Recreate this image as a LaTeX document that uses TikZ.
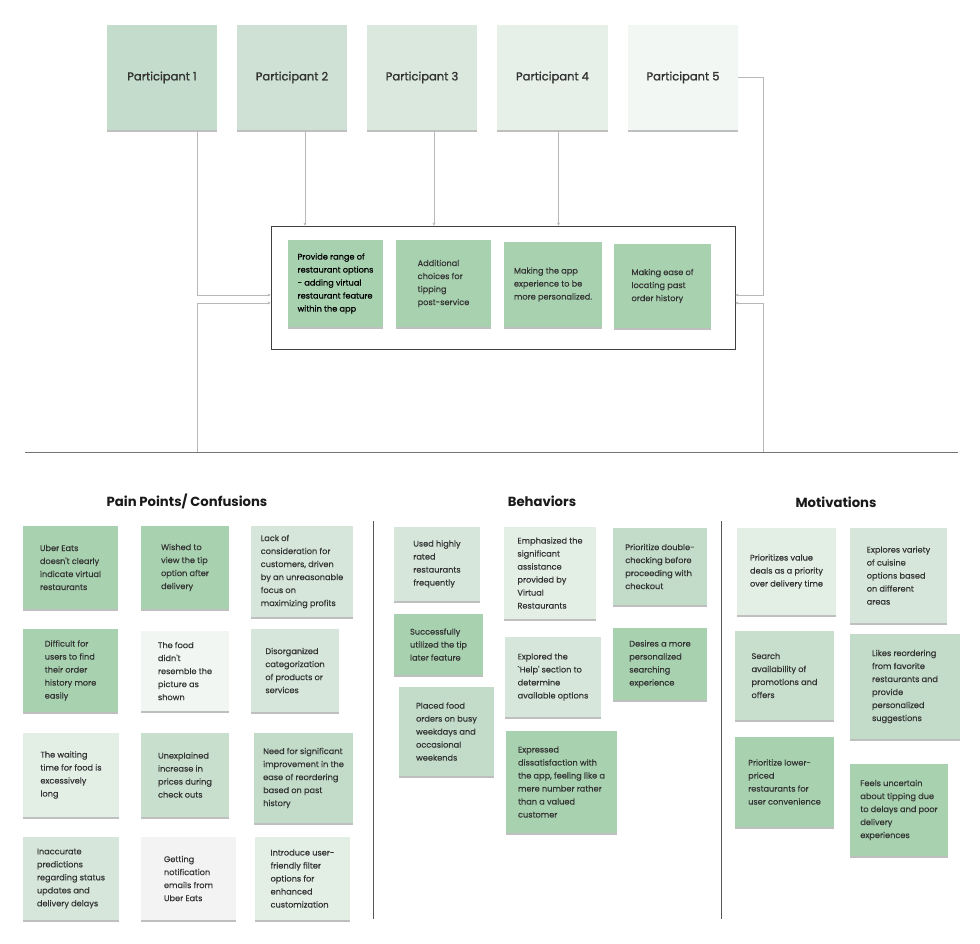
\documentclass[tikz,border=0pt]{standalone}
\usepackage{fontspec}
\setmainfont{Poppins}
\newfontfamily\pmed[FakeBold=1.3]{Poppins}
\newfontfamily\pcard[FakeBold=0.6]{Poppins}
\newfontfamily\ptext[FakeBold=0.25]{Poppins}
\usetikzlibrary{shadows,arrows.meta}
\definecolor{ga}{HTML}{A8D1B0}
\definecolor{gb}{HTML}{C3DCC9}
\definecolor{gc}{HTML}{C9DFCE}
\definecolor{gd}{HTML}{D6E6DA}
\definecolor{ge}{HTML}{E3EEE5}
\definecolor{gf}{HTML}{F1F6F2}
\definecolor{gg}{HTML}{F2F3F2}
\definecolor{pa}{HTML}{C4DCCB}
\definecolor{pb}{HTML}{CEE1D4}
\definecolor{pc}{HTML}{DAE8DE}
\definecolor{pd}{HTML}{E6F0E9}
\definecolor{pe}{HTML}{F2F7F3}
\definecolor{txt}{HTML}{333333}
\definecolor{conn}{HTML}{B8B8B8}
\tikzset{
  card/.style={draw=none, inner sep=0pt, align=left, text=txt,
    font=\ptext\fontsize{8.2}{13}\selectfont,
    drop shadow={shadow xshift=0pt, shadow yshift=-1.5pt, opacity=0.25, fill=black}},
  strongcard/.style={card, text=black, font=\pcard\fontsize{8.2}{13}\selectfont},
  partbox/.style={card, font=\pmed\fontsize{11.5}{14}\selectfont, text=black!80},
  header/.style={font=\bfseries\fontsize{13.2}{16}\selectfont, text=black!90},
  link/.style={draw=conn, line width=0.8pt, -{Stealth[length=3pt,width=3pt]}},
  sepline/.style={draw=black!65, line width=1pt}
}
\newcommand\card[7][card]{%
  \pgfmathsetmacro\cw{#5-#3}\pgfmathsetmacro\ch{#6-#4}%
  \pgfmathsetmacro\cx{(#3+#5)/2}\pgfmathsetmacro\cy{(#4+#6)/2}%
  \node[#1, fill=#7, minimum width=\cw pt, minimum height=\ch pt] (#2) at (\cx,\cy)}
\begin{document}
\begin{tikzpicture}[x=1pt,y=-1pt]
\fill[white] (0,0) rectangle (980,943);
\useasboundingbox (0,0) rectangle (980,943);

% participants
\card[partbox]{p1}{107}{25}{217}{130}{pa} {Participant 1};
\card[partbox]{p2}{237}{25}{347}{130}{pb} {Participant 2};
\card[partbox]{p3}{367}{25}{477}{130}{pc} {Participant 3};
\card[partbox]{p4}{497}{25}{608}{130}{pd} {Participant 4};
\card[partbox]{p5}{628}{25}{738}{130}{pe} {Participant 5};

% central box
\node[draw=black!75, line width=0.8pt, minimum width=464pt, minimum height=123pt, inner sep=0pt] (box) at (503,287.5) {};
\card[strongcard]{c1}{288}{240}{383}{327}{ga} {Provide range of\\restaurant options\\- adding virtual\\restaurant feature\\within the app};
\card{c2}{396}{240}{491}{327}{ga} {Additional\\choices for\\tipping\\post-service};
\card{c3}{504}{242}{602}{327}{ga} {Making the app\\experience to be\\more personalized.};
\card{c4}{614}{244}{711}{328}{ga} {Making ease of\\locating past\\order history};

% separator and connection points
\coordinate (sepL) at (25,452);
\coordinate (sepR) at (958,452);
\coordinate (l) at (197,452);
\coordinate (r) at (763,452);
\draw[sepline, draw=black!55] (sepL) -- (sepR);

% connectors
\draw[link] ([xshift=-20pt]p1.south east) |- ([yshift=-7.5pt]box.west);
\draw[link] ([xshift=13pt]p2.south) -- ([xshift=13pt]p2.south |- box.north);
\draw[link] ([xshift=12pt]p3.south) -- ([xshift=12pt]p3.south |- box.north);
\draw[link] ([xshift=6pt]p4.south) -- ([xshift=6pt]p4.south |- box.north);
\draw[link] (p5.east) -- (p5.east -| r) |- ([yshift=-7.5pt]box.east);
\draw[link] (l) |- ([yshift=-15.5pt]box.west);
\draw[link] (r) |- ([yshift=-15.5pt]box.east);

% headers
\node[header] (h1) at (187,501) {Pain Points/ Confusions};
\node[header] (h2) at (542,501) {Behaviors};
\node[header] (h3) at (836,502) {Motivations};

% vertical separators
\coordinate (v1t) at (373,521); \coordinate (v1b) at (373,919);
\coordinate (v2t) at (721,521); \coordinate (v2b) at (721,919);
\draw[sepline] (v1t) -- (v1b);
\draw[sepline] (v2t) -- (v2b);

% pain points
\card{a1}{23}{526}{118}{609}{ga} {Uber Eats\\doesn't clearly\\indicate virtual\\restaurants};
\card{a2}{141}{526}{229}{609}{ga} {Wished to\\view the tip\\option after\\delivery};
\card{a3}{251}{526}{353}{617}{gd} {Lack of\\consideration for\\customers, driven\\by an unreasonable\\focus on\\maximizing profits};
\card{b1}{23}{629}{118}{712}{ga} {Difficult for\\users to find\\their order\\history more\\easily};
\card{b2}{141}{631}{229}{711}{gf} {The food\\didn't\\resemble the\\picture as\\shown};
\card{b3}{251}{629}{339}{712}{gd} {Disorganized\\categorization\\of products or\\services};
\card{c1x}{23}{733}{119}{817}{ge} {The waiting\\time for food is\\excessively\\long};
\card{c2x}{141}{733}{229}{817}{gc} {Unexplained\\increase in\\prices during\\check outs};
\card{c3x}{254}{733}{353}{823}{gb} {Need for significant\\improvement in the\\ease of reordering\\based on past\\history};
\card{d1}{23}{837}{119}{920}{gd} {Inaccurate\\predictions\\regarding status\\updates and\\delivery delays};
\card{d2}{141}{837}{236}{920}{gg} {Getting\\notification\\emails from\\Uber Eats};
\card{d3}{255}{837}{350}{920}{ge} {Introduce user-\\friendly filter\\options for\\enhanced\\customization};

% behaviors
\card{e1}{394}{527}{480}{601}{gd} {Used highly\\rated\\restaurants\\frequently};
\card{e2}{504}{527}{596}{619}{ge} {Emphasized the\\significant\\assistance\\provided by\\Virtual\\Restaurants};
\card{e3}{613}{528}{707}{605}{gb} {Prioritize double-\\checking before\\proceeding with\\checkout};
\card{f1}{394}{614}{483}{675}{ga} {Successfully\\utilized the tip\\later feature};
\card{f2}{505}{637}{601}{717}{gd} {Explored the\\`Help' section to\\determine\\available options};
\card{f3}{613}{628}{707}{700}{ga} {Desires a more\\personalized\\searching\\experience};
\card{g1}{399}{687}{494}{776}{gb} {Placed food\\orders on busy\\weekdays and\\occasional\\weekends};
\card{g2}{506}{731}{617}{833}{ga} {Expressed\\dissatisfaction with\\the app, feeling like a\\mere number rather\\than a valued\\customer};

% motivations
\card{m1}{737}{528}{836}{615}{ge} {Prioritizes value\\deals as a priority\\over delivery time};
\card{m2}{850}{528}{947}{623}{gd} {Explores variety\\of cuisine\\options based\\on different\\areas};
\card{m3}{735}{631}{834}{720}{gc} {Search\\availability of\\promotions and\\offers};
\card{m4}{850}{634}{960}{739}{gb} {Likes reordering\\from favorite\\restaurants and\\provide\\personalized\\suggestions};
\card{m5}{735}{737}{834}{827}{ga} {Prioritize lower-\\priced\\restaurants for\\user convenience};
\card{m6}{850}{764}{948}{856}{ga} {Feels uncertain\\about tipping due\\to delays and poor\\delivery\\experiences};
\end{tikzpicture}
\end{document}
